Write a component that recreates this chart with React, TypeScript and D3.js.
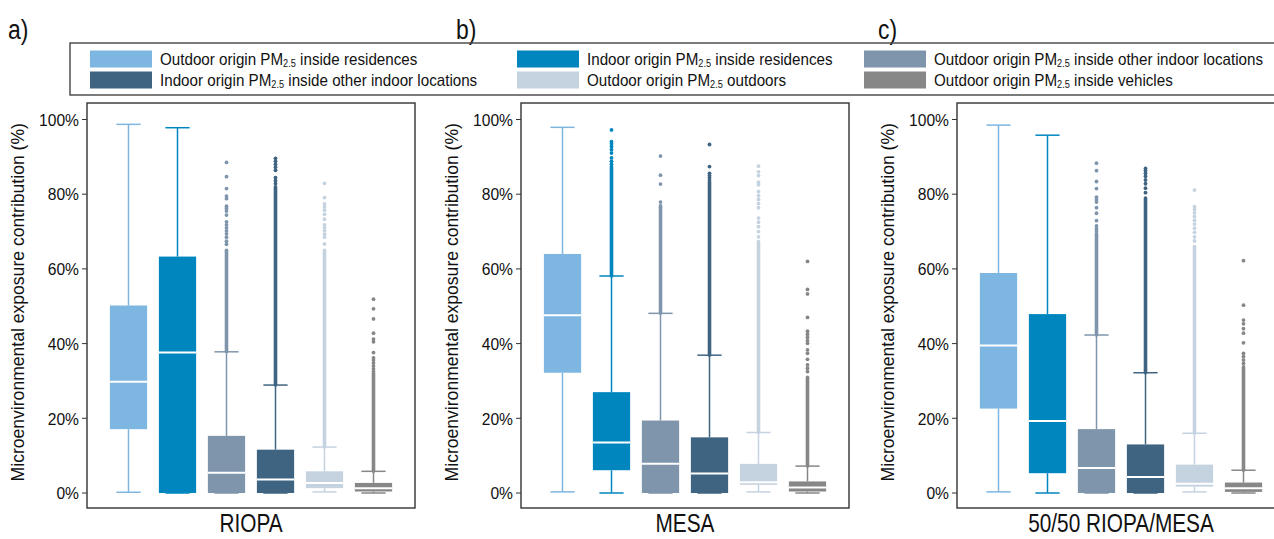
import React from "react";
import * as d3 from "d3";

// ---------- data ----------
const seriesPrefix = [
  "Outdoor origin PM",
  "Indoor origin PM",
  "Outdoor origin PM",
  "Indoor origin PM",
  "Outdoor origin PM",
  "Outdoor origin PM",
];
const seriesSuffix = [
  " inside residences",
  " inside residences",
  " inside other indoor locations",
  " inside other indoor locations",
  " outdoors",
  " inside vehicles",
];
const seriesColors = ["#7db6e1", "#0086bf", "#7e95ac", "#3f6482", "#c5d2e0", "#878787"];
const panelTitles = ["RIOPA", "MESA", "50/50 RIOPA/MESA"];
const panelLetters = ["a)", "b)", "c)"];
const yTicks = [0, 20, 40, 60, 80, 100];
const yLabel = "Microenvironmental exposure contribution (%)";

// [lower whisker, Q1, median, Q3, upper whisker] in %
const riopaBoxes = [
  [0.2, 17.1, 29.8, 50.2, 98.7],
  [0, 0, 37.6, 63.3, 97.8],
  [0, 0, 5.4, 15.3, 37.8],
  [0, 0, 3.6, 11.6, 28.9],
  [0.3, 1.3, 2.7, 5.8, 12.3],
  [0, 0.4, 1.3, 2.7, 5.8],
];
const mesaBoxes = [
  [0.3, 32.2, 47.6, 64.0, 97.9],
  [0, 6.1, 13.5, 27.0, 58.1],
  [0, 0, 7.8, 19.4, 48.1],
  [0, 0, 5.2, 14.9, 36.9],
  [0.3, 2.2, 2.9, 7.8, 16.2],
  [0, 0.4, 1.5, 3.1, 7.2],
];
const mixBoxes = [
  [0.3, 22.6, 39.5, 58.9, 98.5],
  [0, 5.3, 19.3, 47.9, 95.8],
  [0, 0, 6.7, 17.1, 42.3],
  [0, 0, 4.3, 13.0, 32.2],
  [0.3, 1.7, 2.5, 7.6, 16.0],
  [0, 0.3, 1.3, 2.8, 6.1],
];

// ranges where outliers overlap into a continuous column [from, to] in %
const riopaDense = [null, null, [37.8, 65], [28.9, 82], [12.3, 65], [5.8, 32]];
const mesaDense = [null, [58.1, 87.4], [48.1, 76.5], [36.9, 83.3], [16.2, 67.3], [7.2, 31]];
const mixDense = [null, null, [42.3, 69.5], [32.2, 79], [16.0, 66], [6.1, 33.8]];

// individually visible outliers in %
const riopaOutliers = [
  [],
  [],
  [88.5, 84.7, 81.5, 79.5, 78.8, 76.8, 76.2, 75.5, 74.4, 72.6, 71.8, 71.0, 70.2, 69.4, 68.5, 67.4, 66.6],
  [89.6, 88.8, 88.0, 87.2, 86.4, 84.4, 83.6, 82.8],
  [82.9, 79.1, 77.4, 76.6, 75.7, 74.6, 73.3, 71.8, 71.0, 70.2, 69.3, 68.5, 66.7],
  [51.9, 49.3, 46.6, 42.8, 41.2, 40.5, 37.6, 36.2, 35.6, 34.8, 34.0, 33.2, 32.5],
];
const mesaOutliers = [
  [],
  [97.2, 94.1, 93.5, 92.8, 91.9, 91.0, 89.7, 88.8, 88.0],
  [90.2, 85.1, 82.7, 77.9, 76.9],
  [93.3, 87.4, 85.6, 85.0, 84.4, 83.8],
  [87.5, 86.0, 85.0, 83.2, 82.5, 80.7, 79.6, 78.6, 77.5, 76.4, 73.6, 72.5, 71.3, 70.0, 68.6],
  [62.0, 54.5, 53.3, 47.0, 43.3, 42.5, 41.7, 40.8, 40.1, 38.3, 37.4, 35.8, 34.3, 33.4, 32.5],
];
const mixOutliers = [
  [],
  [],
  [88.3, 86.3, 83.4, 81.5, 79.2, 78.5, 77.9, 76.4, 74.9, 72.9, 71.5, 70.8, 70.2],
  [86.9, 86.3, 85.6, 84.8, 83.8, 82.8, 81.6, 80.4],
  [81.1, 76.7, 75.9, 75.0, 74.0, 73.0, 72.0, 70.9, 69.8, 68.6, 67.5],
  [62.2, 50.3, 46.3, 45.3, 44.0, 42.8, 40.2, 37.4, 36.5, 35.6, 34.7],
];

const panelBoxes = [riopaBoxes, mesaBoxes, mixBoxes];
const panelDense = [riopaDense, mesaDense, mixDense];
const panelOutliers = [riopaOutliers, mesaOutliers, mixOutliers];

// ---------- layout ----------
const W = 1274;
const H = 539;
const FONT = "'Liberation Sans', Arial, Helvetica, sans-serif";
const panelLefts = [87, 521, 957];
const panelWidth = 328;
const frameTop = 103;
const frameBottom = 508;

const yScale = d3.scaleLinear().domain([0, 100]).range([493, 119.5]);

function Panel({ p }: { p: number }) {
  const left = panelLefts[p];
  const x = d3
    .scaleBand<number>()
    .domain(d3.range(6))
    .range([left, left + panelWidth])
    .paddingInner(0.24)
    .paddingOuter(0.467);
  const bw = x.bandwidth();
  const capW = bw * 0.65;
  const boxes = panelBoxes[p];
  const dense = panelDense[p];
  const outs = panelOutliers[p];
  const midY = (yScale(0) + yScale(100)) / 2 - 4;
  const labelX = left - 69;
  return (
    <g>
      {/* y axis label */}
      <text
        transform={`translate(${labelX},${midY}) rotate(-90) scale(0.95,1)`}
        textAnchor="middle"
        dominantBaseline="central"
        fontFamily={FONT}
        fontSize={18.5}
        fill="#111"
      >
        {yLabel}
      </text>
      {/* ticks */}
      {yTicks.map((t) => (
        <g key={t}>
          <line x1={left - 5} x2={left} y1={yScale(t)} y2={yScale(t)} stroke="#333" strokeWidth={1} />
          <text
            transform={`translate(${left - 8},${yScale(t)}) scale(0.92,1)`}
            textAnchor="end"
            dominantBaseline="central"
            fontFamily={FONT}
            fontSize={17}
            fill="#111"
          >
            {t + "%"}
          </text>
        </g>
      ))}
      {boxes.map((b, i) => {
        const cx = (x(i) as number) + bw / 2;
        const col = seriesColors[i];
        const [lo, q1, med, q3, hi] = b;
        const d = dense[i];
        return (
          <g key={i}>
            {d && (
              <line
                x1={cx}
                x2={cx}
                y1={yScale(d[0])}
                y2={yScale(d[1])}
                stroke={col}
                strokeWidth={3.6}
                strokeLinecap="round"
              />
            )}
            {outs[i].map((v, k) => (
              <circle key={k} cx={cx} cy={yScale(v)} r={1.9} fill={col} />
            ))}
            <line x1={cx} x2={cx} y1={yScale(hi)} y2={yScale(q3)} stroke={col} strokeWidth={1.5} />
            <line x1={cx} x2={cx} y1={yScale(q1)} y2={yScale(lo)} stroke={col} strokeWidth={1.5} />
            <line x1={cx - capW / 2} x2={cx + capW / 2} y1={yScale(hi)} y2={yScale(hi)} stroke={col} strokeWidth={1.5} />
            <line x1={cx - capW / 2} x2={cx + capW / 2} y1={yScale(lo)} y2={yScale(lo)} stroke={col} strokeWidth={1.5} />
            <rect
              x={x(i)}
              y={yScale(q3)}
              width={bw}
              height={Math.max(yScale(q1) - yScale(q3), 0)}
              fill={col}
            />
            <line
              x1={x(i) as number}
              x2={(x(i) as number) + bw}
              y1={yScale(med)}
              y2={yScale(med)}
              stroke="#fff"
              strokeWidth={2}
            />
          </g>
        );
      })}
      <rect
        x={left}
        y={frameTop}
        width={panelWidth}
        height={frameBottom - frameTop}
        fill="none"
        stroke="#333"
        strokeWidth={1.4}
      />
      <text
        transform={`translate(${left + panelWidth / 2},${532}) scale(0.8,1)`}
        textAnchor="middle"
        fontFamily={FONT}
        fontSize={26}
        fill="#111"
      >
        {panelTitles[p]}
      </text>
    </g>
  );
}

export default function App() {
  const legendCols = [90, 517, 864];
  const legendRows = [59, 80];
  return (
    <svg
      width={W}
      height={H}
      style={{ position: "absolute", left: 0, top: 0, background: "#fff" }}
    >
      <rect x={0} y={0} width={W} height={H} fill="#fff" />
      {panelLetters.map((l, i) => (
        <text
          key={l}
          transform={`translate(${[8, 456, 878][i]},${39}) scale(0.85,1)`}
          fontFamily={FONT}
          fontSize={27}
          fill="#111"
        >
          {l}
        </text>
      ))}
      {/* legend */}
      <rect x={70} y={43} width={1220} height={52} fill="none" stroke="#444" strokeWidth={1.4} />
      {seriesColors.map((c, i) => {
        const cx = legendCols[i % 3];
        const cy = legendRows[Math.floor(i / 3)];
        return (
          <g key={i}>
            <rect x={cx} y={cy - 8.5} width={62} height={17} fill={c} />
            <text
              transform={`translate(${cx + 70},${cy}) scale(0.92,1)`}
              dominantBaseline="central"
              fontFamily={FONT}
              fontSize={16.5}
              fill="#111"
            >
              {seriesPrefix[i]}
              <tspan fontSize={10} dy={4}>2.5</tspan>
              <tspan dy={-4}>{seriesSuffix[i]}</tspan>
            </text>
          </g>
        );
      })}
      {[0, 1, 2].map((p) => (
        <Panel key={p} p={p} />
      ))}
    </svg>
  );
}
